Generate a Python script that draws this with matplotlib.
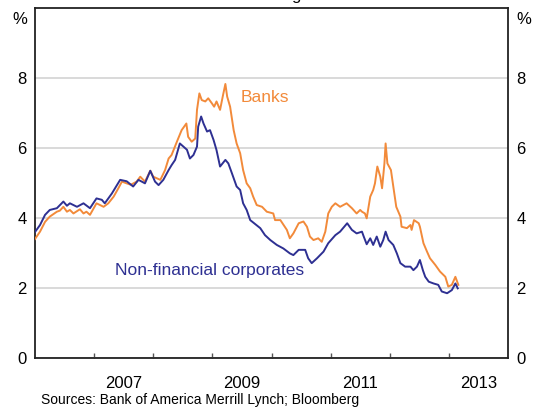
import matplotlib
matplotlib.use("Agg")
import matplotlib.pyplot as plt

plt.rcParams['font.family'] = ['Liberation Sans', 'DejaVu Sans']

# --- data (decimal year, % yield) ---
banks_t = [2006.00, 2006.085, 2006.17, 2006.25, 2006.37, 2006.42, 2006.48, 2006.54, 2006.59, 2006.65,
           2006.76, 2006.82, 2006.87, 2006.93, 2007.04, 2007.16, 2007.24, 2007.33, 2007.41, 2007.47,
           2007.55, 2007.62, 2007.72, 2007.78, 2007.86, 2007.95, 2008.00, 2008.12, 2008.20, 2008.26,
           2008.31, 2008.40, 2008.48, 2008.56, 2008.59, 2008.65, 2008.71, 2008.74, 2008.78, 2008.82,
           2008.88, 2008.93, 2008.99, 2009.03, 2009.07, 2009.13, 2009.18, 2009.22, 2009.25, 2009.30,
           2009.36, 2009.41, 2009.47, 2009.52, 2009.58, 2009.64, 2009.69, 2009.75, 2009.84, 2009.92,
           2010.03, 2010.06, 2010.15, 2010.26, 2010.31, 2010.37, 2010.46, 2010.54, 2010.60, 2010.65,
           2010.71, 2010.79, 2010.85, 2010.91, 2010.96, 2011.02, 2011.08, 2011.16, 2011.27, 2011.36,
           2011.44, 2011.50, 2011.53, 2011.58, 2011.61, 2011.67, 2011.72, 2011.75, 2011.79, 2011.84,
           2011.87, 2011.91, 2011.93, 2011.96, 2012.02, 2012.06, 2012.11, 2012.18, 2012.20, 2012.29,
           2012.35, 2012.37, 2012.41, 2012.49, 2012.51, 2012.57, 2012.63, 2012.68, 2012.77, 2012.85,
           2012.94, 2012.99, 2013.05, 2013.11, 2013.16]
banks_y = [3.40, 3.61, 3.89, 4.04, 4.18, 4.21, 4.32, 4.18, 4.23, 4.13,
           4.25, 4.13, 4.18, 4.09, 4.42, 4.32, 4.42, 4.61, 4.85, 5.04,
           4.99, 4.95, 5.04, 5.18, 5.04, 5.35, 5.18, 5.09, 5.37, 5.70,
           5.80, 6.18, 6.51, 6.70, 6.32, 6.18, 6.27, 7.09, 7.56, 7.37,
           7.33, 7.42, 7.28, 7.18, 7.33, 7.09, 7.51, 7.83, 7.47, 7.18,
           6.51, 6.13, 5.85, 5.37, 4.99, 4.85, 4.61, 4.37, 4.32, 4.18,
           4.13, 3.94, 3.94, 3.66, 3.42, 3.56, 3.85, 3.90, 3.75, 3.47,
           3.37, 3.42, 3.32, 3.61, 4.13, 4.32, 4.42, 4.32, 4.42, 4.28,
           4.13, 4.23, 4.18, 4.13, 3.99, 4.61, 4.80, 4.99, 5.47, 5.18,
           4.85, 5.56, 6.13, 5.56, 5.37, 4.90, 4.32, 4.04, 3.75, 3.71,
           3.80, 3.66, 3.94, 3.85, 3.75, 3.28, 3.04, 2.85, 2.66, 2.47,
           2.32, 2.04, 2.09, 2.32, 2.09]

corp_t = [2006.00, 2006.085, 2006.17, 2006.25, 2006.37, 2006.48, 2006.54, 2006.59, 2006.71, 2006.82,
          2006.93, 2007.04, 2007.13, 2007.18, 2007.30, 2007.44, 2007.55, 2007.66, 2007.75, 2007.86,
          2007.95, 2008.03, 2008.09, 2008.17, 2008.26, 2008.31, 2008.37, 2008.45, 2008.51, 2008.57,
          2008.62, 2008.68, 2008.74, 2008.76, 2008.81, 2008.85, 2008.91, 2008.96, 2009.02, 2009.07,
          2009.13, 2009.22, 2009.27, 2009.33, 2009.41, 2009.47, 2009.52, 2009.58, 2009.64, 2009.81,
          2009.89, 2009.98, 2010.09, 2010.20, 2010.31, 2010.37, 2010.46, 2010.57, 2010.62, 2010.68,
          2010.77, 2010.88, 2010.96, 2011.08, 2011.16, 2011.28, 2011.36, 2011.44, 2011.53, 2011.56,
          2011.61, 2011.67, 2011.72, 2011.78, 2011.84, 2011.89, 2011.93, 2011.98, 2012.06, 2012.12,
          2012.18, 2012.26, 2012.35, 2012.40, 2012.46, 2012.51, 2012.56, 2012.60, 2012.66, 2012.74,
          2012.82, 2012.88, 2012.97, 2013.05, 2013.11, 2013.15]
corp_y = [3.60, 3.80, 4.09, 4.23, 4.28, 4.47, 4.35, 4.42, 4.32, 4.42,
          4.28, 4.56, 4.52, 4.42, 4.70, 5.09, 5.05, 4.90, 5.09, 4.99,
          5.35, 5.04, 4.94, 5.09, 5.37, 5.51, 5.66, 6.13, 6.04, 5.95,
          5.70, 5.80, 6.04, 6.61, 6.90, 6.70, 6.47, 6.51, 6.23, 5.94,
          5.47, 5.66, 5.56, 5.28, 4.90, 4.80, 4.42, 4.23, 3.94, 3.71,
          3.51, 3.37, 3.23, 3.13, 2.99, 2.94, 3.09, 3.09, 2.85, 2.71,
          2.85, 3.04, 3.28, 3.51, 3.61, 3.85, 3.66, 3.56, 3.61, 3.47,
          3.25, 3.42, 3.23, 3.47, 3.18, 3.37, 3.61, 3.37, 3.23, 2.99,
          2.71, 2.61, 2.61, 2.51, 2.61, 2.80, 2.51, 2.32, 2.18, 2.13,
          2.09, 1.90, 1.85, 1.94, 2.13, 1.99]

year_labels = ['2007', '2009', '2011', '2013']
year_label_pos = [2007.5, 2009.5, 2011.5, 2013.5]
year_ticks = [2007, 2008, 2009, 2010, 2011, 2012, 2013]
y_ticks = [0, 2, 4, 6, 8]

ORANGE = '#F28A3A'
NAVY = '#2E3092'

W, H = 538, 407
fig = plt.figure(figsize=(W / 100, H / 100), dpi=100)
ax = fig.add_axes([35 / W, 1 - 358 / H, 473 / W, 350 / H])

ax.plot(banks_t, banks_y, color=ORANGE, lw=1.4, zorder=3)
ax.plot(corp_t, corp_y, color=NAVY, lw=1.4, zorder=4)

ax.set_xlim(2006, 2014)
ax.set_ylim(0, 10)

# year labels sit mid-year, tick marks at year boundaries
ax.set_xticks(year_label_pos)
ax.set_xticklabels(year_labels)
ax.set_xticks(year_ticks, minor=True)
ax.tick_params(axis='x', which='major', length=0, pad=13, labelsize=12)
ax.tick_params(axis='x', which='minor', direction='in', length=3.6, width=1.0, color='#555555')

ax.set_yticks(y_ticks)
ax.tick_params(axis='y', length=0, labelsize=12, pad=6, labelleft=True, labelright=True)
ax.yaxis.grid(True, color='#d3d3d3', lw=1.2)
ax.set_axisbelow(True)

for sp in ax.spines.values():
    sp.set_color('#222222')
    sp.set_linewidth(1.3)

ax.text(2009.47, 7.43, 'Banks', color=ORANGE, fontsize=12.5, va='center', ha='left')
ax.text(2007.35, 2.51, 'Non-financial corporates', color=NAVY, fontsize=12.5, va='center', ha='left')

fig.text(20 / W, 1 - 20 / H, '%', fontsize=12, ha='center', va='center')
fig.text(524 / W, 1 - 20 / H, '%', fontsize=12, ha='center', va='center')

# title mostly cut off at the top edge of the image
fig.text(271 / W, 1.0, 'Investment grade', fontsize=12, ha='center', va='baseline')

fig.text(41 / W, 1 - 400 / H, 'Sources: Bank of America Merrill Lynch; Bloomberg',
         fontsize=10, ha='left', va='center')

fig.savefig('out.png', dpi=100)
